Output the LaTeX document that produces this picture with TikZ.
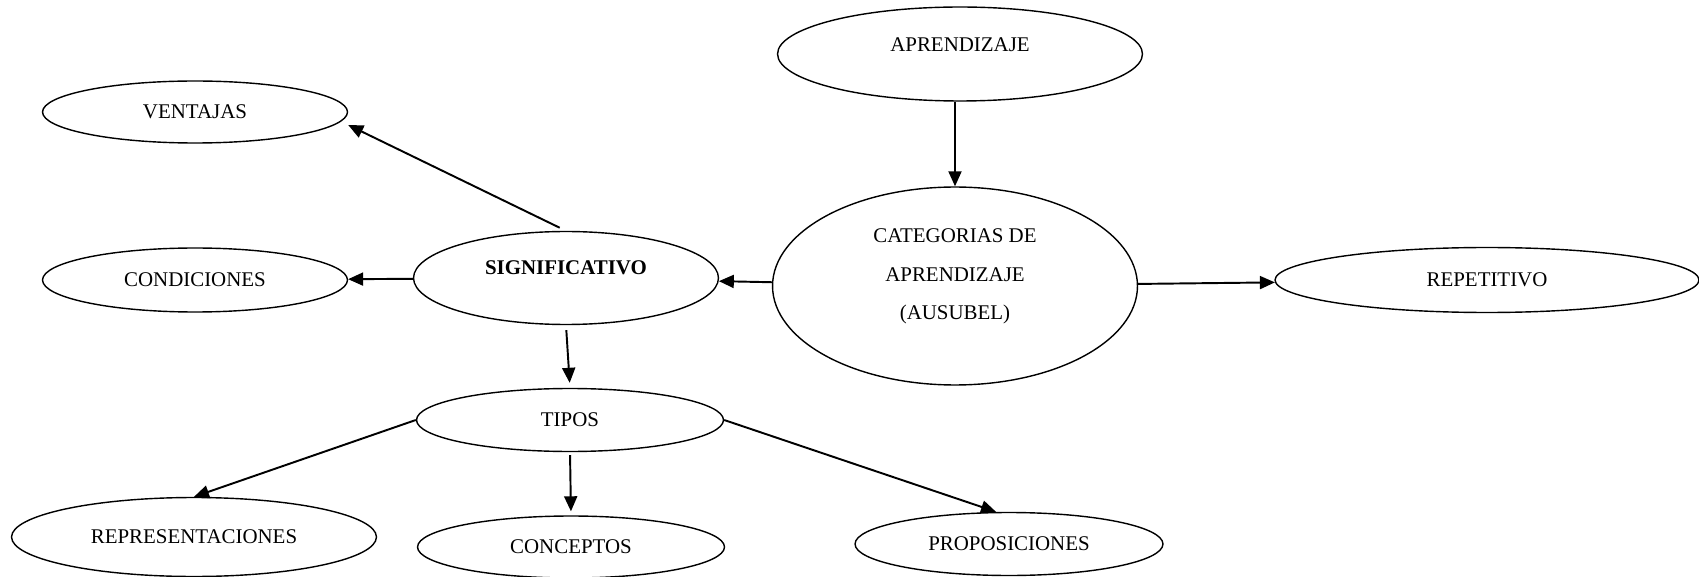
\documentclass[tikz,border=0pt]{standalone}
\usepackage{fontspec}
\setmainfont{Liberation Serif}
\usetikzlibrary{shapes.geometric,arrows.meta}

\begin{document}
\begin{tikzpicture}[x=0.02cm,y=-0.02cm,
  idea/.style={draw=black,ellipse,line width=0.8pt,inner sep=0pt,
    font=\fontsize{11.9}{21.9}\selectfont,align=center},
  link/.style={draw=black,line width=1.1pt,-{Triangle[length=0.3cm,width=0.26cm]}}]
\useasboundingbox (0,0) rectangle (1699,577);
% ellipses
\node[idea,minimum width=7.3cm,minimum height=1.88cm,text depth=0.36cm] (apr) at (960,54) {APRENDIZAJE};
\node[idea,minimum width=7.3cm,minimum height=3.96cm,text depth=0.46cm] (cat) at (955,286) {CATEGORIAS DE\\APRENDIZAJE\\(AUSUBEL)};
\node[idea,minimum width=6.1cm,minimum height=1.24cm] (ven) at (195,112) {VENTAJAS};
\node[idea,minimum width=6.1cm,minimum height=1.28cm] (cond) at (195,280) {CONDICIONES};
\node[idea,minimum width=6.1cm,minimum height=1.86cm,text depth=0.4cm] (sig) at (566,278) {\textbf{SIGNIFICATIVO}};
\node[idea,minimum width=8.48cm,minimum height=1.3cm] (rep) at (1487,280) {REPETITIVO};
\node[idea,minimum width=6.14cm,minimum height=1.26cm] (tip) at (570,420) {TIPOS};
\node[idea,minimum width=7.3cm,minimum height=1.58cm] (repr) at (194,537) {REPRESENTACIONES};
\node[idea,minimum width=6.14cm,minimum height=1.24cm] (con) at (571,547) {CONCEPTOS};
\node[idea,minimum width=6.16cm,minimum height=1.26cm] (pro) at (1009,544) {PROPOSICIONES};
% arrows
\draw[link] (cat.north |- apr.south) -- (cat.north);
\draw[link] (cat) -- (sig);
\draw[link] (cat) -- (rep);
\draw[link] (sig) -- (cond);
\draw[link,shorten <=0.14cm] (sig.north) -- ([yshift=-0.26cm]ven.east);
\draw[link,shorten <=0.1cm,shorten >=0.1cm] (sig.south) -- (tip.north);
\draw[link] (tip.west) -- (repr.north);
\draw[link,shorten <=0.06cm,shorten >=0.08cm] (tip.south) -- (con.north);
\draw[link] (tip.east) -- ([xshift=-0.26cm]pro.north);
\end{tikzpicture}
\end{document}
